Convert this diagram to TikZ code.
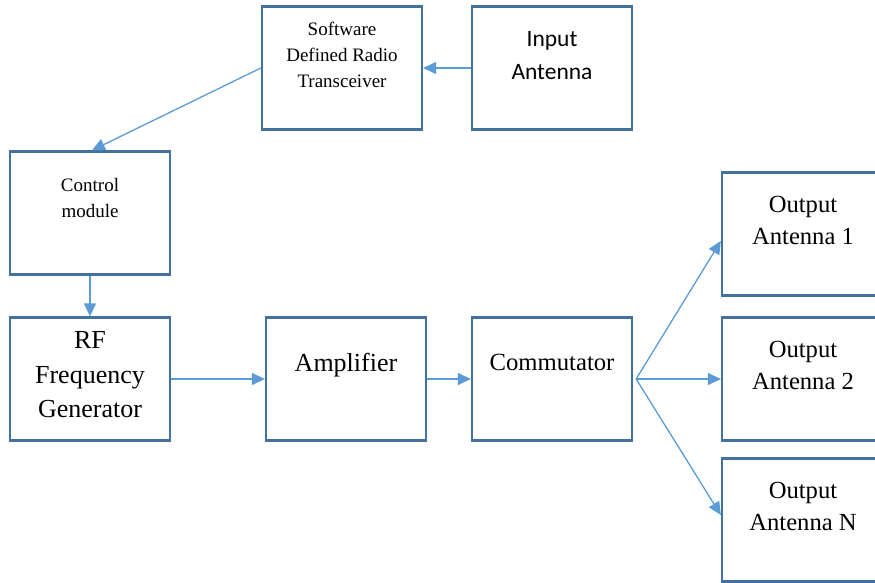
\documentclass[tikz,border=0pt]{standalone}
\usepackage{fontspec}
\setmainfont{Liberation Serif}
\newfontfamily\calibri{Carlito}
\usepackage{tikz}
\usetikzlibrary{arrows.meta}
\usepackage{xcolor}
\definecolor{boxblue}{HTML}{41719C}
\definecolor{arrowblue}{HTML}{5B9BD5}

\begin{document}
\begin{tikzpicture}[x=1pt, y=1pt]

            % Styles for blocks, labels and arrows
            \tikzstyle{block} = [rectangle, draw=boxblue, line width=2.3pt, minimum width=160pt, minimum height=123pt, inner sep=0pt]
            \tikzstyle{wideblock} = [block, minimum width=162pt]
            \tikzstyle{label} = [anchor=north, align=center, inner sep=0pt]
            \tikzstyle{arrow} = [draw=arrowblue, line width=1.3pt, -{Triangle[length=13pt, width=12pt]}]

            \useasboundingbox (0,0) rectangle (875,582);

            % Blocks
            \node (ctrl) [block] at (90,369) {};
            \node (rf) [block, below of=ctrl, node distance=166pt] {};
            \node (amp) [block, right of=rf, node distance=256pt] {};
            \node (comm) [block, right of=amp, node distance=206pt] {};
            \node (input) [block, above of=comm, node distance=311pt] {};
            \node (sdr) [block, left of=input, node distance=210pt] {};
            \node (out2) [wideblock, right of=comm, node distance=251pt] {};
            \node (out1) [wideblock, above of=out2, node distance=145pt] {};
            \node (outN) [wideblock, below of=out2, node distance=141pt] {};

            % Texts in the blocks
            \node (sdrtext) [label, font=\fontsize{19}{26}\selectfont] at ([yshift=-17pt]sdr.north) {Software\\Defined Radio\\Transceiver};
            \node (inputtext) [label, font=\calibri\fontsize{23.5}{33}\selectfont] at ([yshift=-26pt]input.north) {Input\\Antenna};
            \node (ctrltext) [label, font=\fontsize{19}{26}\selectfont] at ([yshift=-28pt]ctrl.north) {Control\\module};
            \node (rftext) [label, font=\fontsize{26}{34.5}\selectfont] at ([yshift=-15pt]rf.north) {RF\\Frequency\\Generator};
            \node (amptext) [label, font=\fontsize{26}{34}\selectfont] at ([yshift=-37pt]amp.north) {Amplifier};
            \node (commtext) [label, font=\fontsize{24.7}{32}\selectfont] at ([yshift=-38pt]comm.north) {Commutator};
            \node (out1text) [label, font=\fontsize{24.6}{32}\selectfont] at ([yshift=-25pt]out1.north) {Output\\Antenna 1};
            \node (out2text) [label, font=\fontsize{24.6}{32}\selectfont] at ([yshift=-25pt]out2.north) {Output\\Antenna 2};
            \node (outNtext) [label, font=\fontsize{24.6}{32}\selectfont] at ([yshift=-25pt]outN.north) {Output\\Antenna N};

            % Arrows
            \draw [arrow] (input.west) -- (sdr.east);
            \draw [arrow] (sdr.west) -- ([xshift=2pt]ctrl.north);
            \draw [arrow] (ctrl.south) -- (rf.north);
            \draw [arrow] (rf.east) -- (amp.west);
            \draw [arrow] (amp.east) -- (comm.west);
            \draw [arrow] ([xshift=3pt]comm.east) -- ([yshift=-7pt]out1.west);
            \draw [arrow] ([xshift=3pt]comm.east) -- (out2.west);
            \draw [arrow] ([xshift=3pt]comm.east) -- ([yshift=5pt]outN.west);

\end{tikzpicture}
\end{document}
